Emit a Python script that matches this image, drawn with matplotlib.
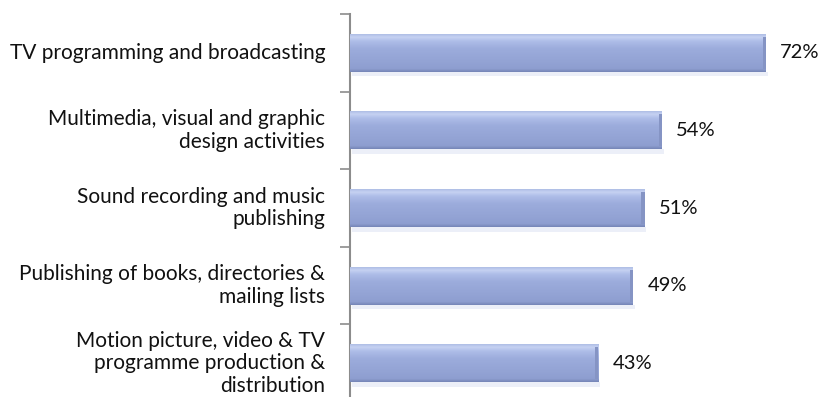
import numpy as np
import matplotlib
matplotlib.use("Agg")
import matplotlib.pyplot as plt
from matplotlib.colors import LinearSegmentedColormap

categories = [
    "TV programming and broadcasting",
    "Multimedia, visual and graphic\ndesign activities",
    "Sound recording and music\npublishing",
    "Publishing of books, directories &\nmailing lists",
    "Motion picture, video & TV\nprogramme production &\ndistribution",
]
values = [72, 54, 51, 49, 43]
labels = ["72%", "54%", "51%", "49%", "43%"]

plt.rcParams['font.family'] = ['Lato', 'DejaVu Sans']

fig = plt.figure(figsize=(8.22, 3.97), dpi=100)
# axes runs a little below the bottom edge, like the original
ax = fig.add_axes([350 / 822, 1 - 402 / 397, 462 / 822, 388 / 397])

y = np.arange(len(values))
h = 0.49

# bevel-ish gradient for the bars (0 = bottom, 1 = top)
cmap = LinearSegmentedColormap.from_list(
    "bev", [(0, "#7787b8"), (0.08, "#8e9ed0"), (0.6, "#9cacdc"),
            (0.8, "#aebde8"), (0.9, "#c6d2f2"), (1, "#a9b8e2")])
grad = np.linspace(1, 0, 64).reshape(-1, 1)

bars = ax.barh(y, values, height=h, color="#9aaad9", edgecolor="none", zorder=2)
for b in bars:
    x0, y0 = b.get_x(), b.get_y()
    w, hh = b.get_width(), b.get_height()
    # soft shadow under the bar
    ax.barh(y0 + hh, w, height=0.06, left=x0 + 0.3, align="edge",
            color="#eceff8", edgecolor="none", zorder=1)
    im = ax.imshow(grad, cmap=cmap, aspect="auto", origin="upper",
                   extent=(x0, x0 + w, y0 + hh, y0), zorder=3)
    im.set_clip_path(b)
    # darker right end
    ax.barh(y0 + 0.04, 0.55, height=hh - 0.08, left=x0 + w - 0.55, align="edge",
            color="#8594c4", edgecolor="none", zorder=4)

for yi, v, t in zip(y, values, labels):
    ax.text(v + 2.5, yi, t, va="center", ha="left", fontsize=14.5, color="#111111")

for yi, c in zip(y, categories):
    ax.text(-4.3, yi, c, va="center", ha="right", fontsize=15,
            color="#111111", linespacing=1.15)

ax.set_xlim(0, 80)
ax.set_ylim(len(values) - 0.5, -0.5)
ax.set_yticks(np.arange(-0.5, len(values), 1.0))
ax.set_yticklabels([])
ax.set_xticks([])
ax.tick_params(axis="y", length=7, width=1.2, color="#8c8c8c", direction="out")
for s in ["top", "right", "bottom"]:
    ax.spines[s].set_visible(False)
ax.spines["left"].set_color("#8c8c8c")
ax.spines["left"].set_linewidth(1.5)

fig.savefig("out.png", dpi=100)
